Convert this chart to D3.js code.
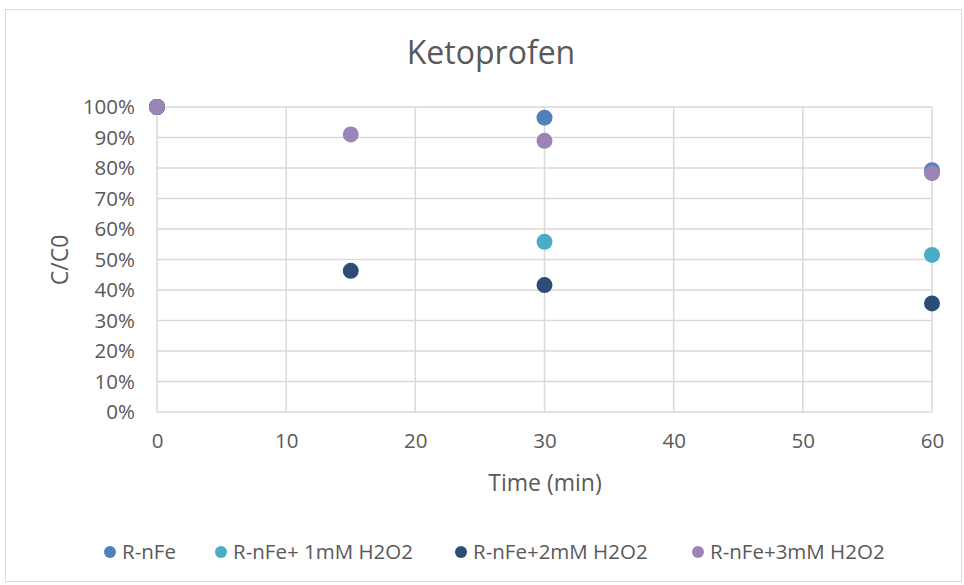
<!DOCTYPE html>
<html>
<head>
<meta charset="utf-8">
<script src="https://cdn.jsdelivr.net/npm/d3@7"></script>
<style>
  body { margin: 0; background: #fff; }
  text { font-family: "Open Sans", sans-serif; fill: #595959; }
</style>
</head>
<body>
<svg class="container"></svg>
<script>
const seriesNames = ["R-nFe", "R-nFe+ 1mM H2O2", "R-nFe+2mM H2O2", "R-nFe+3mM H2O2"];
const colors = ["#4f81bd", "#4bacc6", "#2c4d75", "#9c84b8"];
// [time, C/C0]
const rnfe = [[0, 1.0], [30, 0.965], [60, 0.793]];
const h2o2_1 = [[0, 1.0], [30, 0.558], [60, 0.515]];
const h2o2_2 = [[0, 1.0], [15, 0.463], [30, 0.416], [60, 0.356]];
const h2o2_3 = [[0, 1.0], [15, 0.91], [30, 0.889], [60, 0.783]];
const xTicks = [0, 10, 20, 30, 40, 50, 60];
const yTicks = [0, 0.1, 0.2, 0.3, 0.4, 0.5, 0.6, 0.7, 0.8, 0.9, 1.0];

const allSeries = [rnfe, h2o2_1, h2o2_2, h2o2_3];

const width = 964;
const height = 585;
const svg = d3.select(".container").attr("width", width).attr("height", height);

svg.append("rect")
  .attr("x", 5.5).attr("y", 9.5)
  .attr("width", 956).attr("height", 572)
  .attr("fill", "#fff").attr("stroke", "#d9d9d9");

const xScale = d3.scaleLinear().domain([0, 60]).range([157, 932]);
const yScale = d3.scaleLinear().domain([0, 1]).range([412, 107]);

// gridlines
svg.append("g").selectAll("line").data(yTicks).enter().append("line")
  .attr("x1", xScale(0)).attr("x2", xScale(60))
  .attr("y1", (d) => yScale(d)).attr("y2", (d) => yScale(d))
  .attr("stroke", "#d9d9d9").attr("stroke-width", 1.5);

svg.append("g").selectAll("line").data(xTicks).enter().append("line")
  .attr("x1", (d) => xScale(d)).attr("x2", (d) => xScale(d))
  .attr("y1", yScale(0)).attr("y2", yScale(1))
  .attr("stroke", "#d9d9d9").attr("stroke-width", 1.5);

// axes
const xAxis = svg.append("g")
  .attr("transform", `translate(0,${yScale(0)})`)
  .call(d3.axisBottom(xScale).tickValues(xTicks).tickSize(0).tickPadding(21).tickFormat(d3.format("d")));
const yAxis = svg.append("g")
  .attr("transform", `translate(${xScale(0)},0)`)
  .call(d3.axisLeft(yScale).tickValues(yTicks).tickSize(0).tickPadding(22).tickFormat(d3.format(".0%")));
[xAxis, yAxis].forEach((a) => {
  a.select(".domain").remove();
  a.selectAll("text").style("font-size", "20.5px").style("fill", "#595959").style("font-family", "'Open Sans', sans-serif");
});

// points
allSeries.forEach((s, i) => {
  svg.append("g").selectAll("circle").data(s).enter().append("circle")
    .attr("cx", (d) => xScale(d[0]))
    .attr("cy", (d) => yScale(d[1]))
    .attr("r", 8)
    .attr("fill", colors[i]);
});

// title & axis titles
svg.append("text").attr("x", 491).attr("y", 64).attr("text-anchor", "middle")
  .style("font-size", "32px").text("Ketoprofen");
svg.append("text").attr("x", 545).attr("y", 491).attr("text-anchor", "middle")
  .style("font-size", "23px").text("Time (min)");
svg.append("text").attr("transform", "translate(68,260) rotate(-90)").attr("text-anchor", "middle")
  .style("font-size", "23px").text("C/C0");

// legend
const legendX = [110, 221, 461, 698];
const legend = svg.append("g").selectAll("g").data(seriesNames).enter().append("g")
  .attr("transform", (d, i) => `translate(${legendX[i]},552)`);
legend.append("circle").attr("r", 6).attr("fill", (d, i) => colors[i]);
legend.append("text").attr("x", 12).attr("y", 7).style("font-size", "20.5px").text((d) => d);
</script>
</body>
</html>
